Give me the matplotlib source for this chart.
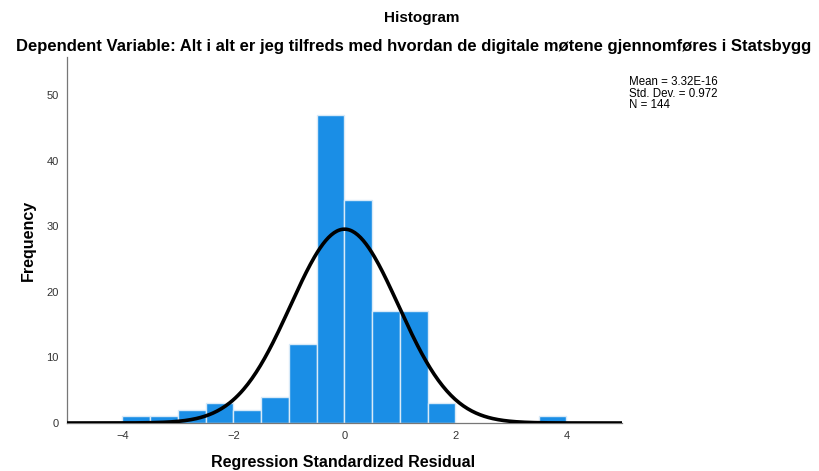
import numpy as np
import matplotlib.pyplot as plt

plt.rcParams['font.family'] = ['Liberation Sans', 'DejaVu Sans']

# histogram bins (left edges) and counts
bin_left = [-4.0, -3.5, -3.0, -2.5, -2.0, -1.5, -1.0, -0.5, 0.0, 0.5, 1.0, 1.5, 3.5]
counts = [1, 1, 2, 3, 2, 4, 12, 47, 34, 17, 17, 3, 1]
bin_width = 0.5

mean = 3.32e-16
std_dev = 0.972
n = 144

fig = plt.figure(figsize=(8.2, 4.71), dpi=100)
ax = fig.add_axes([67 / 820, 1 - 423 / 471, 555 / 820, 366 / 471])

ax.bar(bin_left, counts, width=bin_width, align='edge', color='#1a8ee6',
       edgecolor='#d8eaf8', linewidth=1.0, zorder=2)

# normal curve from the reported statistics
xs = np.linspace(-5, 5, 400)
ys = n * bin_width / (std_dev * np.sqrt(2 * np.pi)) * np.exp(-0.5 * ((xs - mean) / std_dev) ** 2)
ax.plot(xs, ys, color='black', linewidth=2.6, zorder=3)

ax.set_xlim(-5, 5)
ax.set_ylim(0, 55.8)
ax.set_xticks([-4, -2, 0, 2, 4])
ax.set_yticks([0, 10, 20, 30, 40, 50])
ax.tick_params(length=0, labelsize=8, labelcolor='#333333', pad=6)
for s in ['top', 'right']:
    ax.spines[s].set_visible(False)
for s in ['left', 'bottom']:
    ax.spines[s].set_color('#777777')
    ax.spines[s].set_linewidth(0.9)

fig.text(343 / 820, 1 - 462 / 471, 'Regression Standardized Residual',
         ha='center', va='center', fontsize=11.5, fontweight='bold')
fig.text(28 / 820, 1 - 240 / 471, 'Frequency', rotation=90,
         ha='center', va='center', fontsize=11.5, fontweight='bold')

fig.text(422 / 820, 1 - 18 / 471, 'Histogram', ha='center', va='center', fontsize=11, fontweight='bold')
fig.text(414 / 820, 1 - 46 / 471, 'Dependent Variable: Alt i alt er jeg tilfreds med hvordan de digitale møtene gjennomføres i Statsbygg',
         ha='center', va='center', fontsize=12, fontweight='bold')

fig.text(629 / 820, 1 - 76 / 471, 'Mean = 3.32E-16\nStd. Dev. = 0.972\nN = 144',
         ha='left', va='top', fontsize=8.3, linespacing=0.95)

fig.savefig('out.png', dpi=100)
